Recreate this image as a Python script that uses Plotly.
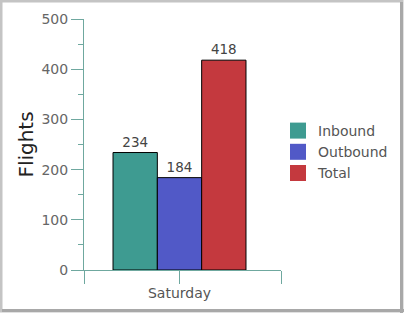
import plotly.graph_objects as go

categories = ["Saturday"]
series_names = ["Inbound", "Outbound", "Total"]
inbound = [234]
outbound = [184]
total = [418]
colors = ["#3E9B91", "#5159C7", "#C4393E"]
y_ticks = [0, 100, 200, 300, 400, 500]

W, H = 404, 313
L, R, T, B = 84, 123, 19, 43
pw, ph = W - L - R, H - T - B

def px(x):
    return (x - L) / pw

def py(y):
    return (H - B - y) / ph

AX = "#6FA89F"
FONT = "DejaVu Sans"
X0, X1 = -0.4848, 0.5152

fig = go.Figure()
for name, vals, col in zip(series_names, [inbound, outbound, total], colors):
    fig.add_trace(go.Bar(
        x=categories, y=vals, name=name, marker=dict(color=col, line=dict(color="#000", width=1)),
        text=vals, textposition="outside", textfont=dict(color="#444", size=13.5, family=FONT),
        cliponaxis=False, showlegend=False))
for name, col in zip(series_names, colors):
    fig.add_trace(go.Scatter(
        x=[None], y=[None], mode="markers", name=name,
        marker=dict(symbol="square", size=16, color=col, line=dict(width=0))))

fig.update_layout(
    width=W, height=H,
    margin=dict(l=L, r=R, t=T, b=B, autoexpand=False),
    paper_bgcolor="white", plot_bgcolor="white",
    font=dict(family=FONT, size=14, color="#666"),
    barmode="group", bargap=0.325, bargroupgap=0,
    xaxis=dict(type="category", range=[X0, X1], tickmode="array", tickvals=[X0, 0, X1],
               ticktext=["", categories[0], ""], ticks="outside",
               ticklen=13, tickcolor=AX, showline=True, linecolor=AX, showgrid=False,
               tickfont=dict(size=14, color="#555"), zeroline=False, ticklabelstandoff=-3),
    yaxis=dict(range=[0, 500], tickvals=y_ticks, ticks="outside", ticklen=12, tickcolor=AX,
               showline=True, linecolor=AX, showgrid=False, zeroline=False,
               tickfont=dict(size=14, color="#666"),
               minor=dict(ticks="outside", ticklen=5, tickcolor=AX, dtick=50, tick0=50, showgrid=False),
               title=dict(text="Flights", font=dict(size=20, color="#222"), standoff=2)),
    legend=dict(x=px(278), y=py(115), xanchor="left", yanchor="top",
                font=dict(size=14, color="#555"), bgcolor="rgba(0,0,0,0)", itemsizing="trace"),
    shapes=[
        dict(type="rect", xref="paper", yref="paper", x0=px(1), x1=px(402), y0=py(1), y1=py(311),
             line=dict(color="#C4C4C4", width=3)),
        dict(type="line", xref="paper", yref="paper", x0=px(401.5), x1=px(401.5), y0=py(2), y1=py(313),
             line=dict(color="#A8A8A8", width=3)),
        dict(type="line", xref="paper", yref="paper", x0=px(2), x1=px(404), y0=py(310.5), y1=py(310.5),
             line=dict(color="#A8A8A8", width=3)),
    ],
)
fig.write_html("out.html")
